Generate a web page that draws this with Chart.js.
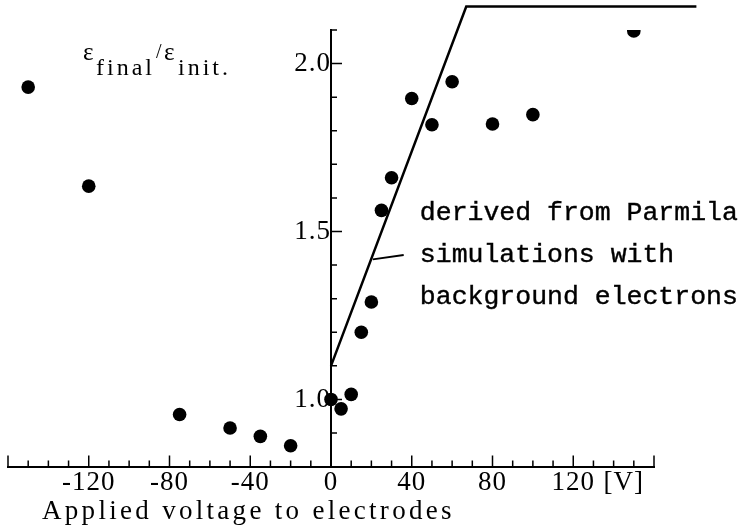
<!DOCTYPE html>
<html>
<head>
<meta charset="utf-8">
<script src="https://cdn.jsdelivr.net/npm/chart.js@4.4.0/dist/chart.umd.min.js"></script>
<style>
  html, body { margin: 0; padding: 0; background: #fff; }
  #wrap { width: 744px; height: 532px; }
</style>
</head>
<body>
<div id="wrap"><canvas id="myChart"></canvas></div>
<script>
// measured points
const voltage = [-150, -120, -75, -50, -35, -20, 0, 5, 10, 15, 20, 25, 30, 40, 50, 60, 80, 100, 150];
const ratio = [1.93, 1.635, 0.955, 0.915, 0.89, 0.862, 1.0, 0.972, 1.015, 1.2, 1.29, 1.563, 1.66, 1.896, 1.818, 1.946, 1.82, 1.848, 2.097];

// Parmila simulation curve + leader line to its label
const simVoltage = [0, 67, 181];
const simRatio = [1.1, 2.17, 2.17];
const leaderVoltage = [20.7, 36];
const leaderRatio = [1.417, 1.43];

const xLabelValues = [-120, -80, -40, 0, 40, 80, 120];
const yLabelValues = [1.0, 1.5, 2.0];
const unitLabel = '[V]';
const noteLines = ['derived from Parmila', 'simulations with', 'background electrons'];
const xTitle = 'Applied voltage to electrodes';

const serif = 'Liberation Serif';
const toXY = (xs, ys) => xs.map((x, i) => ({x: x, y: ys[i]}));

// ticks point inward, long at labelled values
const inwardTicks = {
	id: 'inwardTicks',
	beforeDraw(chart) {
		chart.ctx.letterSpacing = '1px';
	},
	afterDatasetsDraw(chart) {
		const {ctx, scales: {x, y}} = chart;
		const x0 = x.getPixelForValue(0);
		const yb = y.bottom;
		ctx.save();
		ctx.strokeStyle = '#000';
		ctx.lineWidth = 1.5;
		ctx.beginPath();
		x.ticks.forEach(t => {
			if (t.value % 10 !== 0) return;
			const px = x.getPixelForValue(t.value);
			const len = t.value % 40 === 0 ? 11 : 6;
			ctx.moveTo(px, yb);
			ctx.lineTo(px, yb - len);
		});
		y.ticks.forEach(t => {
			const v = Math.round(t.value * 10);
			if (v <= 8) return;
			const py = y.getPixelForValue(t.value);
			const len = v % 5 === 0 ? 11 : 6;
			ctx.moveTo(x0, py);
			ctx.lineTo(x0 + len, py);
		});
		ctx.stroke();
		ctx.restore();
	},
	afterDraw(chart) {
		const {ctx, scales: {x}} = chart;
		ctx.save();
		ctx.fillStyle = '#000';
		ctx.strokeStyle = '#000';
		ctx.textBaseline = 'alphabetic';
		ctx.textAlign = 'left';

		// y title: eps_final / eps_init.
		ctx.letterSpacing = '3px';
		ctx.font = '25px "' + serif + '"';
		ctx.fillText('ε', 83, 60);
		ctx.fillText('ε', 164, 60);
		ctx.font = '20px "' + serif + '"';
		ctx.fillText('/', 156, 58);
		ctx.font = '24px "' + serif + '"';
		ctx.fillText('final', 96, 75);
		ctx.fillText('init.', 178, 75);

		// x title
		ctx.letterSpacing = '3.3px';
		ctx.font = '27px "' + serif + '"';
		ctx.fillText(xTitle, 42, 519);

		// note
		ctx.letterSpacing = '0px';
		ctx.font = '26.5px "Liberation Mono"';
		ctx.lineWidth = 0.4;
		const nx = x.getPixelForValue(44);
		noteLines.forEach((s, i) => {
			ctx.fillText(s, nx, 220 + i * 42);
			ctx.strokeText(s, nx, 220 + i * 42);
		});
		ctx.restore();
	}
};

const ctx = document.getElementById('myChart').getContext('2d');
let myChart = new Chart(ctx, {
	type: 'scatter',
	data: {
		datasets: [
			{
				label: 'measured',
				data: toXY(voltage, ratio),
				backgroundColor: '#000',
				borderWidth: 0,
				pointRadius: 6.8
			},
			{
				label: 'Parmila',
				data: toXY(simVoltage, simRatio),
				showLine: true,
				borderColor: '#000',
				borderWidth: 2.5,
				pointRadius: 0,
				clip: false
			},
			{
				label: 'leader',
				data: toXY(leaderVoltage, leaderRatio),
				showLine: true,
				borderColor: '#000',
				borderWidth: 2,
				pointRadius: 0,
				clip: false
			}
		]
	},
	options: {
		responsive: true,
		maintainAspectRatio: false,
		animation: false,
		layout: {padding: {left: 8, right: 90, top: 30, bottom: 33}},
		plugins: {legend: {display: false}, tooltip: {enabled: false}},
		scales: {
			x: {
				type: 'linear',
				min: -160,
				max: 160,
				afterBuildTicks: scale => {
					scale.ticks.push({value: 145});
					scale.ticks.sort((a, b) => a.value - b.value);
				},
				ticks: {
					stepSize: 10,
					autoSkip: false,
					maxRotation: 0,
					padding: 0,
					color: '#000',
					font: {family: serif, size: 27},
					callback: v => v === 145 ? unitLabel : (xLabelValues.includes(v) ? String(v) : '')
				},
				grid: {drawOnChartArea: false, drawTicks: false, color: 'rgba(0,0,0,0)'},
				border: {display: true, color: '#000', width: 2}
			},
			y: {
				type: 'linear',
				position: {x: 0},
				min: 0.8,
				max: 2.1,
				ticks: {
					stepSize: 0.1,
					autoSkip: false,
					padding: 8,
					color: '#000',
					font: {family: serif, size: 27},
					callback: v => {
						const r = Math.round(v * 10) / 10;
						return yLabelValues.includes(r) ? r.toFixed(1) : '';
					}
				},
				grid: {drawOnChartArea: false, drawTicks: false, color: 'rgba(0,0,0,0)'},
				border: {display: true, color: '#000', width: 2}
			}
		}
	},
	plugins: [inwardTicks]
});
</script>
</body>
</html>
